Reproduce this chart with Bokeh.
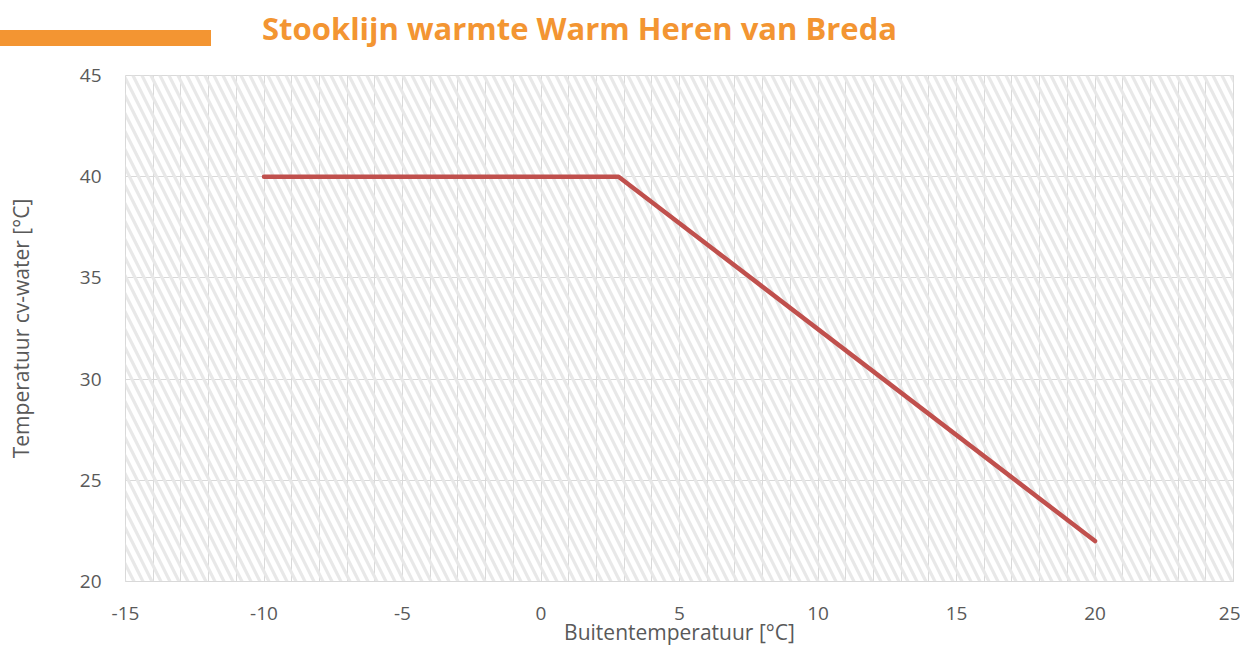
from bokeh.plotting import figure
from bokeh.models import BoxAnnotation, SingleIntervalTicker, Range1d, FixedTicker, Div, GridBox
from bokeh.embed import file_html
from bokeh.resources import INLINE

# Data
outdoor_temp = [-10, 2.8, 20]
water_temp = [40, 40, 22]
x_ticks = [-15, -10, -5, 0, 5, 10, 15, 20, 25]
y_ticks = [20, 25, 30, 35, 40, 45]
title_text = "Stooklijn warmte Warm Heren van Breda"
x_label = "Buitentemperatuur [°C]"
y_label = "Temperatuur cv-water [°C]"

ORANGE = "#F39532"
GRID = "#d9d9d9"
TXT = "#595959"
FONT = "Open Sans"

p = figure(width=1240, height=654, output_backend="svg", toolbar_location=None,
           x_range=Range1d(-15, 25), y_range=Range1d(20, 45),
           min_border_left=125, min_border_right=7, min_border_top=75, min_border_bottom=73)
p.outline_line_color = GRID
p.background_fill_color = "white"

# hatch background
p.add_layout(BoxAnnotation(fill_alpha=0, line_color=None, hatch_pattern="\\",
                           hatch_color="#e8e8e8", hatch_scale=18, hatch_weight=3.2,
                           level="underlay"))

p.line(outdoor_temp, water_temp, line_color="#C0504D", line_width=4.5,
       line_join="round", line_cap="round")

p.xaxis.ticker = FixedTicker(ticks=x_ticks)
p.yaxis.ticker = FixedTicker(ticks=y_ticks)
p.xaxis.major_label_overrides = {t: str(t) for t in x_ticks}
p.yaxis.major_label_overrides = {t: str(t) for t in y_ticks}
p.xgrid.ticker = SingleIntervalTicker(interval=1)
p.ygrid.ticker = FixedTicker(ticks=y_ticks)
p.xgrid.grid_line_color = GRID
p.ygrid.grid_line_color = GRID

for ax in (p.xaxis[0], p.yaxis[0]):
    ax.major_tick_line_color = None
    ax.minor_tick_line_color = None
    ax.major_tick_out = 0
    ax.major_tick_in = 0
    ax.major_label_text_font = FONT
    ax.major_label_text_font_size = "19px"
    ax.major_label_text_color = TXT
    ax.axis_label_text_font = FONT
    ax.axis_label_text_font_size = "21px"
    ax.axis_label_text_font_style = "normal"
    ax.axis_label_text_color = TXT
p.xaxis.axis_line_color = GRID
p.yaxis.axis_line_color = None
p.xaxis.axis_label = x_label
p.yaxis.axis_label = y_label
p.xaxis.major_label_standoff = 25
p.yaxis.major_label_standoff = 24
p.xaxis.axis_label_standoff = -5
p.yaxis.axis_label_standoff = 42

# header: orange accent bar + title, overlaid in the same grid cell as the figure
header_html = (
    '<div style="position:relative;width:1240px;height:50px;margin:0;padding:0">'
    '<div style="position:absolute;left:0;top:30px;width:211px;height:16px;background:%s"></div>'
    '<div style="position:absolute;left:262px;top:13px;font-family:\'Open Sans\';font-weight:bold;'
    'font-size:31px;line-height:1;color:%s;white-space:nowrap">%s</div>'
    '</div>' % (ORANGE, ORANGE, title_text)
)
header = Div(text=header_html, width=1240, height=50, margin=0)
p.margin = 0
layout = GridBox(children=[(p, 0, 0), (header, 0, 0)])

open("out.html", "w").write(file_html(layout, INLINE))
